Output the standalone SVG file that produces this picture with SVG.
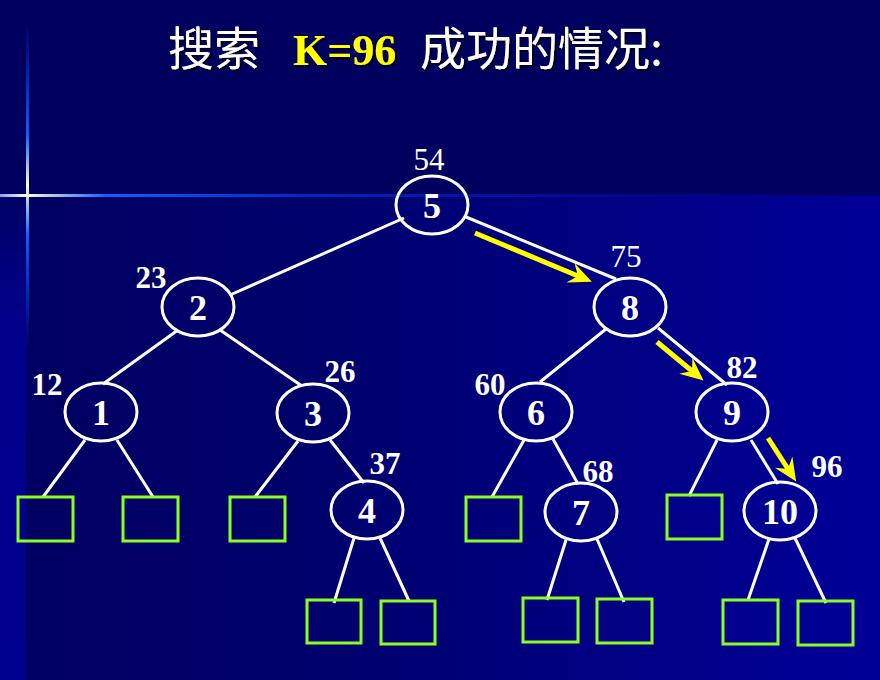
<svg xmlns="http://www.w3.org/2000/svg" width="880" height="680" viewBox="0 0 880 680">
<defs>
<linearGradient id="lower" x1="0" y1="0" x2="1" y2="0">
<stop offset="0" stop-color="#000062"/>
<stop offset="0.35" stop-color="#00006c"/>
<stop offset="1" stop-color="#000098"/>
</linearGradient>
<linearGradient id="strip" x1="0" y1="0" x2="0" y2="1">
<stop offset="0" stop-color="#000066"/>
<stop offset="0.25" stop-color="#00008a"/>
<stop offset="1" stop-color="#00008e"/>
</linearGradient>
<linearGradient id="vline" x1="0" y1="0" x2="0" y2="1">
<stop offset="0" stop-color="#0040ff" stop-opacity="0"/>
<stop offset="0.35" stop-color="#1060ff"/>
<stop offset="0.5" stop-color="#ffffd0"/>
<stop offset="0.65" stop-color="#1060ff"/>
<stop offset="1" stop-color="#0040ff" stop-opacity="0"/>
</linearGradient>
<linearGradient id="hline" x1="0" y1="0" x2="1" y2="0">
<stop offset="0" stop-color="#80a0ff"/>
<stop offset="0.03" stop-color="#ffffd0"/>
<stop offset="0.12" stop-color="#1060ff"/>
<stop offset="0.35" stop-color="#0028c0"/>
<stop offset="1" stop-color="#000090" stop-opacity="0.2"/>
</linearGradient>
<filter id="shadow" x="-5%" y="-20%" width="110%" height="140%">
<feFlood flood-color="#000020"/>
<feComposite in2="SourceAlpha" operator="in"/>
<feOffset dx="2" dy="2" result="s"/>
<feMerge><feMergeNode in="s"/><feMergeNode in="SourceGraphic"/></feMerge>
</filter>
<marker id="ah" markerUnits="userSpaceOnUse" markerWidth="30" markerHeight="30" viewBox="-10 -12 26 24" refX="0" refY="0" orient="auto">
<path d="M13,0 L-7,-9 L0,0 L-7,9 Z" fill="#ffff00"/>
</marker>
</defs>
<style>
.edge{stroke:#ffffff;stroke-width:3;fill:none}
.arr{stroke:#ffff00;stroke-width:5;fill:none;marker-end:url(#ah)}
.node ellipse{fill:none;stroke:#ffffff;stroke-width:3}
.num{font-family:"Liberation Serif","Times New Roman",serif;font-weight:bold;font-size:36px;fill:#ffffff;text-anchor:middle}
.key{font-family:"Liberation Serif","Times New Roman",serif;font-weight:bold;font-size:31px;fill:#ffffff;text-anchor:middle}
.keyr{font-weight:normal}
.leaf{fill:none;stroke:#88ff22;stroke-width:3}
.title{font-family:"Noto Sans CJK SC","Noto Sans",sans-serif;font-size:46px;fill:#ffffff}
.tk{font-family:"Liberation Serif","Times New Roman",serif;font-weight:bold;font-size:44px;fill:#ffff00}
</style>
<!-- background -->
<rect x="0" y="0" width="880" height="680" fill="#00005e"/>
<rect x="26" y="196" width="854" height="484" fill="url(#lower)"/>
<rect x="0" y="196" width="26" height="484" fill="url(#strip)"/>
<rect x="26" y="20" width="3" height="330" fill="url(#vline)"/>
<rect x="0" y="194" width="880" height="3" fill="url(#hline)"/>
<!-- title -->
<g id="title" filter="url(#shadow)">
<text class="title" x="168" y="65">搜索</text>
<text class="tk" x="293" y="65">K=96</text>
<text class="title" x="420" y="65">成功的情况:</text>
</g>
<!-- connectors -->
<g id="connectors">
<line class="edge" x1="404" y1="218" x2="230" y2="295"/>
<line class="edge" x1="466" y1="217" x2="616" y2="279"/>
<line class="edge" x1="178" y1="330" x2="103" y2="384"/>
<line class="edge" x1="220" y1="330" x2="302" y2="386"/>
<line class="edge" x1="606" y1="329" x2="540" y2="382"/>
<line class="edge" x1="658" y1="328" x2="727" y2="385"/>
<line class="edge" x1="85" y1="440" x2="43" y2="497"/>
<line class="edge" x1="117" y1="440" x2="153" y2="497"/>
<line class="edge" x1="298" y1="441" x2="255" y2="497"/>
<line class="edge" x1="330" y1="440" x2="364" y2="483"/>
<line class="edge" x1="354" y1="538" x2="334" y2="603"/>
<line class="edge" x1="380" y1="538" x2="409" y2="601"/>
<line class="edge" x1="524" y1="440" x2="492" y2="497"/>
<line class="edge" x1="553" y1="439" x2="578" y2="484"/>
<line class="edge" x1="566" y1="540" x2="547" y2="600"/>
<line class="edge" x1="597" y1="539" x2="624" y2="602"/>
<line class="edge" x1="717" y1="440" x2="689" y2="496"/>
<line class="edge" x1="751" y1="440" x2="778" y2="484"/>
<line class="edge" x1="769" y1="539" x2="748" y2="600"/>
<line class="edge" x1="795" y1="538" x2="826" y2="603"/>
<line class="arr" x1="475" y1="233" x2="578" y2="276"/>
<line class="arr" x1="657" y1="342" x2="692" y2="371"/>
<line class="arr" x1="768" y1="438" x2="788" y2="469"/>
</g>
<!-- nodes -->
<g id="n5" class="node"><ellipse cx="432" cy="205" rx="36" ry="29"/><text class="num" x="432" y="218">5</text><text class="key keyr" x="429" y="170">54</text></g>
<g id="n2" class="node"><ellipse cx="198" cy="307" rx="36" ry="29"/><text class="num" x="198" y="320">2</text><text class="key" x="151" y="288">23</text></g>
<g id="n8" class="node"><ellipse cx="630" cy="307" rx="36" ry="29"/><text class="num" x="630" y="320">8</text><text class="key keyr" x="626" y="267">75</text></g>
<g id="n1" class="node"><ellipse cx="101" cy="412" rx="36" ry="29"/><text class="num" x="101" y="425">1</text><text class="key" x="47" y="395">12</text></g>
<g id="n3" class="node"><ellipse cx="313" cy="413" rx="36" ry="29"/><text class="num" x="313" y="426">3</text><text class="key" x="340" y="382">26</text></g>
<g id="n6" class="node"><ellipse cx="536" cy="412" rx="36" ry="29"/><text class="num" x="536" y="425">6</text><text class="key" x="490" y="395">60</text></g>
<g id="n9" class="node"><ellipse cx="732" cy="412" rx="36" ry="29"/><text class="num" x="732" y="425">9</text><text class="key" x="742" y="378">82</text></g>
<g id="n4" class="node"><ellipse cx="367" cy="510" rx="36" ry="29"/><text class="num" x="367" y="523">4</text><text class="key" x="385" y="474">37</text></g>
<g id="n7" class="node"><ellipse cx="581" cy="512" rx="36" ry="29"/><text class="num" x="581" y="525">7</text><text class="key" x="598" y="482">68</text></g>
<g id="n10" class="node"><ellipse cx="780" cy="511" rx="36" ry="29"/><text class="num" x="780" y="524">10</text><text class="key" x="827" y="477">96</text></g>
<!-- leaves -->
<g id="leaves">
<rect class="leaf" x="18" y="497" width="55" height="44"/>
<rect class="leaf" x="123" y="497" width="55" height="44"/>
<rect class="leaf" x="230" y="497" width="55" height="44"/>
<rect class="leaf" x="307" y="600" width="54" height="43"/>
<rect class="leaf" x="381" y="601" width="54" height="43"/>
<rect class="leaf" x="466" y="497" width="55" height="44"/>
<rect class="leaf" x="523" y="598" width="55" height="44"/>
<rect class="leaf" x="597" y="599" width="55" height="44"/>
<rect class="leaf" x="667" y="495" width="55" height="44"/>
<rect class="leaf" x="723" y="600" width="55" height="44"/>
<rect class="leaf" x="798" y="601" width="55" height="44"/>
</g>
</svg>
